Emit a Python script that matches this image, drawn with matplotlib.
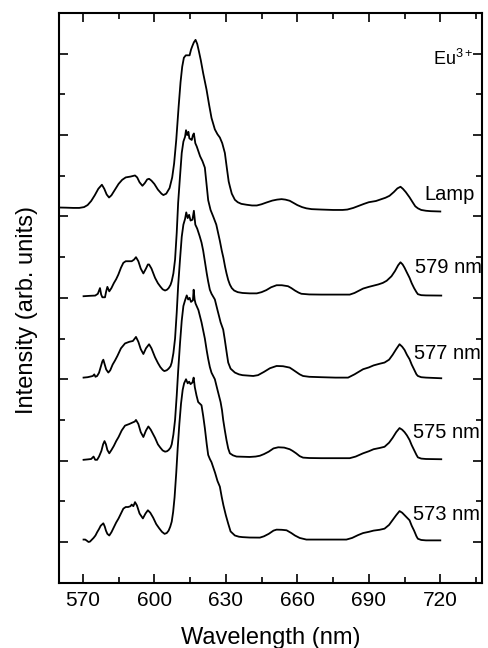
import matplotlib
matplotlib.use("Agg")
import matplotlib.pyplot as plt
from matplotlib.ticker import MultipleLocator

plt.rcParams['font.family'] = ['Liberation Sans', 'DejaVu Sans']
plt.rcParams['mathtext.fontset'] = 'custom'
plt.rcParams['mathtext.rm'] = 'Liberation Sans'

# Lamp-excited spectrum (offset 4)
wl_lamp = [560, 563, 566, 568.5, 570.5, 572, 573.5, 575, 576.5, 578, 579, 580, 581, 582,
           583.5, 585, 586.5, 588, 590, 591.9, 592.8, 593.8, 595, 596, 597, 597.8, 598.8,
           600, 601.5, 603, 603.8, 605, 606.4, 607.5, 608.3, 609.2, 610.2, 611, 611.7,
           612.4, 613.2, 614, 614.8, 615.4, 615.9, 616.6, 617.3, 618, 618.7, 619.5, 620.5,
           621.9, 623, 624, 625.4, 626.5, 627.5, 628.5, 629.6, 630.5, 631.2, 631.7, 632.5,
           633.8, 635, 636.5, 638.7, 641, 643, 645, 647.1, 649.5, 651.5, 653.4, 655, 656.8,
           658.5, 660, 662, 663.8, 666, 670, 675, 679, 681, 683.5, 686.2, 688, 690, 693,
           695.3, 697, 698.7, 700.5, 702, 703.3, 704.3, 705.5, 707.1, 708.5, 709.5, 710.6,
           712, 714, 716, 720]
int_lamp = [0.11, 0.108, 0.105, 0.105, 0.115, 0.14, 0.19, 0.26, 0.34, 0.39, 0.34, 0.27, 0.233, 0.26,
            0.33, 0.40, 0.45, 0.48, 0.49, 0.504, 0.48, 0.42, 0.377, 0.41, 0.455, 0.463, 0.44,
            0.40, 0.33, 0.28, 0.263, 0.28, 0.349, 0.48, 0.65, 0.94, 1.35, 1.65, 1.84,
            1.95, 1.98, 1.98, 1.98, 2.05, 2.09, 2.14, 2.17, 2.12, 2.03, 1.92, 1.76,
            1.56, 1.37, 1.21, 1.07, 1.01, 0.97, 0.9, 0.78, 0.58, 0.43, 0.37, 0.28,
            0.205, 0.175, 0.155, 0.144, 0.135, 0.135, 0.15, 0.172, 0.195, 0.207, 0.213, 0.207, 0.193,
            0.165, 0.14, 0.115, 0.10, 0.09, 0.085, 0.08, 0.08, 0.085, 0.105, 0.135, 0.155, 0.175, 0.19,
            0.213, 0.23, 0.254, 0.30, 0.345, 0.365, 0.34, 0.30, 0.235, 0.17, 0.125, 0.10,
            0.08, 0.07, 0.065, 0.061]

# 579 nm excitation (offset 3)
wl_579 = [570.3, 573, 575.2, 576.3, 577.2, 577.7, 578.2, 579.3, 579.8, 580.3, 581.1, 582, 583,
          584, 584.9, 586, 587, 588, 589.1, 590.5, 591.5, 592.3, 593.3, 594.3, 595.4, 596.5,
          597.3, 597.8, 598.8, 600.3, 601.5, 602.5, 603.5, 604.5, 605.3, 606, 606.8, 607.3,
          608, 608.7, 609.4, 610.0, 610.8, 611.5, 612.2, 612.9, 613.3, 613.8, 614.3, 614.7,
          615.2, 615.7, 616.2, 616.6, 617.2, 617.8, 618.5, 619.2, 620.2, 621.2, 621.9, 622.6,
          623.6, 624.7, 626, 627.5, 628.3, 629, 629.7, 630.3, 631, 631.7, 632.5, 633.5, 635,
          637, 640, 643, 645, 647, 649, 651.3, 653.5, 656.1, 657.5, 659, 660.5, 661.7, 665,
          670, 676, 682, 684, 686, 687.6, 690, 692, 694, 695.9, 697.5, 699.5, 701, 702.3,
          703.3, 704.2, 705, 706, 707.1, 708, 709, 710, 710.6, 712, 714, 720.4]
int_579 = [0.02, 0.025, 0.028, 0.05, 0.12, 0.04, 0.007, 0.007, 0.08, 0.135, 0.08, 0.12, 0.18,
           0.23, 0.286, 0.37, 0.43, 0.45, 0.45, 0.45, 0.47, 0.50, 0.45, 0.36, 0.30, 0.36,
           0.41, 0.41, 0.36, 0.246, 0.18, 0.14, 0.105, 0.09, 0.10, 0.12, 0.16, 0.204,
           0.30, 0.47, 0.80, 1.17, 1.50, 1.78, 1.92, 1.98, 2.06, 2.0, 2.04, 1.96,
           1.95, 1.94, 2.0, 2.02, 1.9, 1.86, 1.8, 1.74, 1.68, 1.6, 1.4, 1.2,
           1.08, 1.0, 0.9, 0.7, 0.58, 0.49, 0.38, 0.30, 0.22, 0.163, 0.12, 0.09, 0.07,
           0.06, 0.055, 0.055, 0.07, 0.095, 0.13, 0.155, 0.155, 0.143, 0.12, 0.09, 0.065, 0.05, 0.042,
           0.04, 0.04, 0.04, 0.06, 0.09, 0.114, 0.135, 0.15, 0.165, 0.184, 0.21, 0.265, 0.33, 0.40,
           0.437, 0.41, 0.37, 0.31, 0.246, 0.18, 0.12, 0.07, 0.045, 0.033, 0.03, 0.028]

# 577 nm excitation (offset 2)
wl_577 = [570.3, 572, 573.5, 574.2, 574.8, 575.3, 576, 576.8, 577.5, 578.2, 578.6, 579.2, 579.8,
          580.7, 581.5, 582.5, 583.5, 584.5, 586, 587.7, 589.5, 591, 591.8, 592.3, 593.3, 594.3,
          595.4, 596.5, 597.8, 598.8, 600.3, 601.5, 602.5, 603.5, 604.2, 605.2, 606, 606.8,
          607.3, 608, 608.7, 609.4, 610.0, 610.8, 611.5, 612.2, 612.9, 613.4, 614, 614.6,
          615.2, 616.0, 616.6, 617.2, 618, 619, 619.8, 620.5, 621.2, 622, 622.6, 623.3, 624,
          625.4, 626.5, 627.2, 627.8, 628.9, 629.5, 630, 630.5, 631, 632, 633.8, 635.5, 637,
          641.5, 643.5, 646, 648.5, 651.3, 654, 656.8, 658, 659.5, 661, 662.4, 665, 670, 676,
          681.3, 684, 687.6, 690, 692, 694.5, 696.6, 698.5, 700, 701.5, 702.9, 704, 705, 706,
          707.1, 708, 709, 710, 710.6, 712, 714, 720.4]
int_577 = [0.02, 0.025, 0.035, 0.04, 0.06, 0.03, 0.04, 0.08, 0.15, 0.22, 0.24, 0.18, 0.12,
           0.082, 0.11, 0.18, 0.23, 0.286, 0.38, 0.44, 0.46, 0.47, 0.50, 0.52, 0.46, 0.37,
           0.31, 0.38, 0.43, 0.38, 0.27, 0.20, 0.15, 0.115, 0.10, 0.11, 0.13, 0.16,
           0.205, 0.32, 0.50, 0.82, 1.15, 1.48, 1.75, 1.90, 1.97, 2.05, 1.98, 2.02,
           1.95, 1.96, 2.07, 1.9, 1.85, 1.76, 1.68, 1.58, 1.45, 1.3, 1.2, 1.1, 1.05,
           0.98, 0.85, 0.77, 0.70, 0.61, 0.50, 0.40, 0.30, 0.205, 0.13, 0.082, 0.06, 0.05,
           0.04, 0.05, 0.09, 0.135, 0.163, 0.16, 0.143, 0.12, 0.09, 0.06, 0.04, 0.03, 0.025, 0.02,
           0.02, 0.06, 0.123, 0.145, 0.17, 0.19, 0.205, 0.24, 0.30, 0.37, 0.43, 0.40, 0.36, 0.30,
           0.246, 0.18, 0.12, 0.06, 0.04, 0.025, 0.02, 0.012]

# 575 nm excitation (offset 1)
wl_575 = [570.3, 572, 573.5, 574.5, 575.2, 576, 576.8, 577.8, 578.5, 579.1, 579.7, 580.3, 581.1,
          582, 583, 584, 585, 586.3, 587.7, 589.5, 591, 591.8, 592.3, 593.3, 594.3, 595.4,
          596.5, 597.5, 598.5, 600.3, 601.5, 602.5, 603.5, 604.5, 605.3, 606, 606.8, 607.3,
          608, 608.7, 609.4, 610.0, 610.8, 611.5, 612.2, 612.9, 613.6, 614.2, 614.8, 615.4,
          616.2, 616.5, 616.9, 617.3, 618.5, 619.8, 620.5, 621.2, 622, 622.6, 623.3, 624,
          625.4, 626.5, 627.8, 628.4, 628.9, 629.6, 630.3, 631, 631.7, 633, 634.5, 640, 642.5,
          644.3, 646, 648, 650, 652, 654.5, 656.8, 658, 659.5, 661, 662.4, 665, 670, 676, 682,
          684.5, 687.6, 690, 692, 694.5, 696.6, 698.5, 700, 701.5, 702.9, 704, 705, 706, 707.1,
          708, 709, 710, 710.6, 712, 714, 720.4]
int_575 = [0.01, 0.015, 0.02, 0.05, 0.01, 0.01, 0.05, 0.12, 0.20, 0.24, 0.20, 0.13, 0.09,
           0.13, 0.18, 0.24, 0.29, 0.37, 0.43, 0.45, 0.47, 0.48, 0.50, 0.45, 0.35, 0.29,
           0.37, 0.42, 0.38, 0.28, 0.20, 0.16, 0.125, 0.11, 0.115, 0.13, 0.16, 0.20,
           0.32, 0.50, 0.80, 1.10, 1.45, 1.72, 1.90, 1.97, 2.03, 1.98, 2.0, 1.95,
           1.97, 2.10, 1.98, 1.93, 1.85, 1.70, 1.60, 1.50, 1.35, 1.25, 1.15, 1.08,
           1.0, 0.87, 0.72, 0.62, 0.50, 0.37, 0.25, 0.15, 0.09, 0.065, 0.05, 0.045, 0.05,
           0.06, 0.08, 0.11, 0.15, 0.164, 0.16, 0.14, 0.12, 0.09, 0.055, 0.037, 0.032, 0.03, 0.03, 0.03,
           0.05, 0.09, 0.115, 0.14, 0.155, 0.17, 0.22, 0.28, 0.35, 0.40, 0.38, 0.35, 0.31, 0.254,
           0.19, 0.13, 0.07, 0.04, 0.025, 0.02, 0.017]

# 573 nm excitation (offset 0)
wl_573 = [570.3, 571, 571.5, 572.4, 573, 573.5, 574.5, 575.3, 576, 576.8, 577.5, 578.6, 579.2,
          579.7, 580.3, 581.1, 582, 583, 584, 585, 586, 587, 588, 589, 590, 590.5, 591.2,
          591.9, 592.7, 593.8, 595.2, 596.3, 597.3, 598.3, 599.5, 600.8, 602, 603.2, 604.3,
          605.2, 606, 606.7, 607.3, 607.9, 608.5, 609.2, 609.8, 610.5, 611.2, 611.9, 612.5,
          613.3, 614, 614.6, 615.2, 616, 616.5, 617, 617.7, 618.4, 619.8, 620.5, 621.2, 622,
          622.6, 623.3, 624, 625.5, 626.5, 627.5, 628.3, 629, 630, 631, 632, 633.8, 635.5, 637,
          640, 644.3, 646, 648, 650, 651.3, 653.5, 655.5, 657.5, 659, 661, 663.8, 670, 675,
          680.6, 683, 685.5, 687.6, 690, 692, 694.5, 696.6, 698.5, 700, 701.5, 702.9, 704, 705,
          706, 707.1, 708, 709, 710, 710.6, 712, 714, 720]
int_573 = [0.03, 0.03, 0.02, 0.0, 0.005, 0.02, 0.05, 0.08, 0.12, 0.16, 0.20, 0.23, 0.19,
           0.14, 0.10, 0.08, 0.12, 0.18, 0.24, 0.29, 0.35, 0.41, 0.43, 0.43, 0.44, 0.46, 0.44,
           0.49, 0.45, 0.35, 0.29, 0.35, 0.39, 0.36, 0.30, 0.22, 0.17, 0.125, 0.10,
           0.11, 0.14, 0.19, 0.25, 0.37, 0.55, 0.85, 1.15, 1.45, 1.70, 1.87, 1.95,
           2.0, 1.95, 1.97, 1.94, 1.96, 2.02, 1.9, 1.8, 1.72, 1.68, 1.55, 1.4, 1.2,
           1.07, 1.02, 0.98, 0.85, 0.75, 0.68, 0.55, 0.45, 0.33, 0.226, 0.13, 0.08, 0.065, 0.06,
           0.055, 0.054, 0.07, 0.10, 0.14, 0.152, 0.15, 0.144, 0.11, 0.08, 0.05, 0.03, 0.03, 0.03,
           0.03, 0.05, 0.085, 0.11, 0.125, 0.14, 0.15, 0.164, 0.21, 0.27, 0.33, 0.38, 0.36, 0.33,
           0.30, 0.267, 0.20, 0.14, 0.07, 0.04, 0.025, 0.02, 0.02]

spectra = [(wl_lamp, int_lamp), (wl_579, int_579), (wl_577, int_577),
           (wl_575, int_575), (wl_573, int_573)]
offsets = [4, 3, 2, 1, 0]
labels = ["Lamp", "579 nm", "577 nm", "575 nm", "573 nm"]
label_x = [713.4, 709.2, 709.0, 708.4, 708.4]
label_y = [4.20, 3.30, 2.25, 1.28, 0.27]

fig = plt.figure(figsize=(4.89, 6.48), dpi=100)
ax = fig.add_axes([59 / 489, 65.3 / 648, 423 / 489, 569.7 / 648])

for (wl, inten), off in zip(spectra, offsets):
    ax.plot(wl, [v + off for v in inten], color='black', lw=1.3)

for lab, lx, ly in zip(labels, label_x, label_y):
    ax.text(lx, ly, lab, fontsize=14.5, va='baseline', ha='left')
ax.text(716.8, 5.86, r"Eu$^{3+}$", fontsize=13, va='baseline', ha='left')

ax.set_xlim(560, 737.5)
ax.set_ylim(-0.5, 6.5)
ax.xaxis.set_major_locator(MultipleLocator(30))
ax.xaxis.set_minor_locator(MultipleLocator(15))
ax.yaxis.set_major_locator(MultipleLocator(1))
ax.yaxis.set_minor_locator(MultipleLocator(0.5))
ax.tick_params(which='both', direction='in', top=True, right=True, width=1.2)
ax.tick_params(which='major', length=6.5)
ax.tick_params(which='minor', length=4.3)
ax.tick_params(axis='x', labelsize=15, pad=6)
ax.tick_params(axis='y', labelleft=False)
for s in ax.spines.values():
    s.set_linewidth(1.5)

ax.set_xlabel("Wavelength (nm)", fontsize=17, labelpad=12)
ax.set_ylabel("Intensity (arb. units)", fontsize=17, labelpad=12)
ax.yaxis.label.set_y(0.479)

fig.savefig("out.png", dpi=100)
